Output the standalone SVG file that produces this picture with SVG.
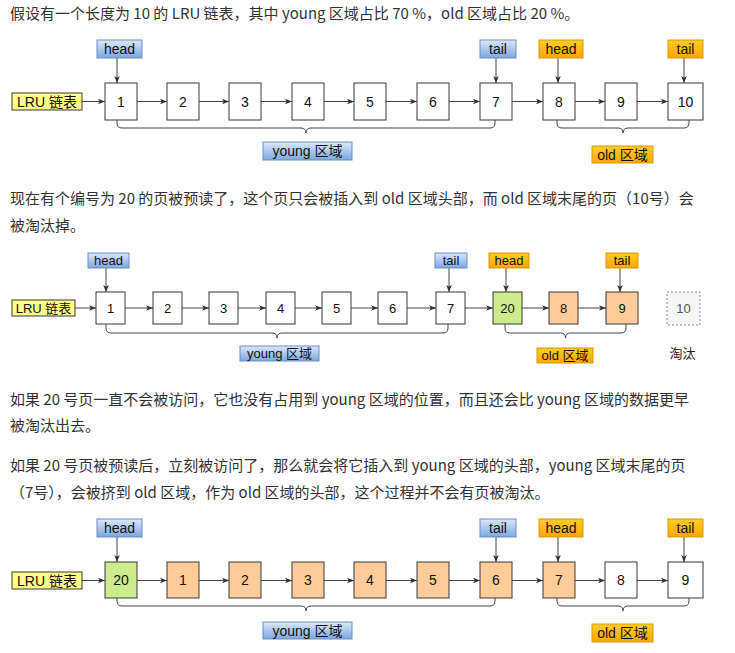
<svg xmlns="http://www.w3.org/2000/svg" width="735" height="653" viewBox="0 0 735 653">
<style>
.para{font-family:"Noto Sans CJK SC","Noto Sans",sans-serif;font-size:15px;fill:#333}
.box{stroke:#36393d;stroke-width:1}
.w{fill:#fff}.g{fill:#cdeb8b}.o{fill:#ffcc99}
.t{font-family:"Liberation Sans","Noto Sans CJK SC",sans-serif;text-anchor:middle;dominant-baseline:central;fill:#111}
.t14{font-size:14px}.t13{font-size:13px}
.note{fill:#ffff88;stroke:#36393d;stroke-width:1}
.bl{fill:url(#gb);stroke:#6c8ebf;stroke-width:1}
.or{fill:url(#go);stroke:#d79b00;stroke-width:1}
.ln{fill:none;stroke:#444;stroke-width:1;marker-end:url(#arr)}
.br{fill:none;stroke:#444;stroke-width:1}
</style>
<defs>
<linearGradient id="gb" x1="0" y1="0" x2="0" y2="1"><stop offset="0" stop-color="#dae8fc"/><stop offset="1" stop-color="#7ea6e0"/></linearGradient>
<linearGradient id="go" x1="0" y1="0" x2="0" y2="1"><stop offset="0" stop-color="#ffcd28"/><stop offset="1" stop-color="#ffa500"/></linearGradient>
<marker id="arr" viewBox="0 0 10 10" refX="10" refY="5" markerWidth="7" markerHeight="7" orient="auto" markerUnits="userSpaceOnUse"><path d="M0,1 L10,5 L0,9 L2.5,5 z" fill="#333"/></marker>
</defs>
<rect width="735" height="653" fill="#fff"/>

<g id="texts">
<text class="para" x="10" y="19">假设有一个长度为 10 的 LRU 链表，其中 young 区域占比 70 %，old 区域占比 20 %。</text>
<text class="para" x="10" y="204">现在有个编号为 20 的页被预读了，这个页只会被插入到 old 区域头部，而 old 区域末尾的页（10号）会</text>
<text class="para" x="10" y="231">被淘汰掉。</text>
<text class="para" x="10" y="405">如果 20 号页一直不会被访问，它也没有占用到 young 区域的位置，而且还会比 young 区域的数据更早</text>
<text class="para" x="10" y="431">被淘汰出去。</text>
<text class="para" x="10" y="471">如果 20 号页被预读后，立刻被访问了，那么就会将它插入到 young 区域的头部，young 区域末尾的页</text>
<text class="para" x="10" y="498">（7号），会被挤到 old 区域，作为 old 区域的头部，这个过程并不会有页被淘汰。</text>
</g>

<!-- Diagram 1 -->
<g id="d1-connectors">
<path class="ln" d="M82,101.5H105"/><path class="ln" d="M137,101.5H167"/><path class="ln" d="M199,101.5H229"/><path class="ln" d="M261,101.5H292"/><path class="ln" d="M324,101.5H354"/><path class="ln" d="M386,101.5H417"/><path class="ln" d="M449,101.5H480"/><path class="ln" d="M512,101.5H543"/><path class="ln" d="M575,101.5H605"/><path class="ln" d="M637,101.5H668"/>
<path class="ln" d="M117,58V83"/><path class="ln" d="M496,58V83"/><path class="ln" d="M558,58V83"/><path class="ln" d="M684,58V83"/>
<path class="br" d="M117,120v3q0,5 5,5H301q5,0 5,5q0,-5 5,-5H490q5,0 5,-5v-3"/>
<path class="br" d="M557,120v3q0,5 5,5H618q5,0 5,5q0,-5 5,-5H684q5,0 5,-5v-3"/>
</g>
<g id="d1-lru"><rect class="note" x="12" y="93" width="70" height="17"/><text class="t t14" x="47" y="101.5">LRU 链表</text></g>
<g id="d1-n1"><rect class="box w" x="105" y="83" width="32" height="37"/><text class="t t14" x="121" y="101.5">1</text></g>
<g id="d1-n2"><rect class="box w" x="167" y="83" width="32" height="37"/><text class="t t14" x="183" y="101.5">2</text></g>
<g id="d1-n3"><rect class="box w" x="229" y="83" width="32" height="37"/><text class="t t14" x="245" y="101.5">3</text></g>
<g id="d1-n4"><rect class="box w" x="292" y="83" width="32" height="37"/><text class="t t14" x="308" y="101.5">4</text></g>
<g id="d1-n5"><rect class="box w" x="354" y="83" width="32" height="37"/><text class="t t14" x="370" y="101.5">5</text></g>
<g id="d1-n6"><rect class="box w" x="417" y="83" width="32" height="37"/><text class="t t14" x="433" y="101.5">6</text></g>
<g id="d1-n7"><rect class="box w" x="480" y="83" width="32" height="37"/><text class="t t14" x="496" y="101.5">7</text></g>
<g id="d1-n8"><rect class="box w" x="543" y="83" width="32" height="37"/><text class="t t14" x="559" y="101.5">8</text></g>
<g id="d1-n9"><rect class="box w" x="605" y="83" width="32" height="37"/><text class="t t14" x="621" y="101.5">9</text></g>
<g id="d1-n10"><rect class="box w" x="668" y="83" width="35" height="37"/><text class="t t14" x="685.5" y="101.5">10</text></g>
<g id="d1-head-y"><rect class="bl" x="97" y="40" width="45" height="18"/><text class="t t14" x="119.5" y="49">head</text></g>
<g id="d1-tail-y"><rect class="bl" x="480" y="40" width="36" height="18"/><text class="t t14" x="498" y="49">tail</text></g>
<g id="d1-head-o"><rect class="or" x="539" y="40" width="44" height="18"/><text class="t t14" x="561" y="49">head</text></g>
<g id="d1-tail-o"><rect class="or" x="668" y="40" width="35" height="18"/><text class="t t14" x="685.5" y="49">tail</text></g>
<g id="d1-young"><rect class="bl" x="263" y="142" width="89" height="18"/><text class="t t14" x="307.5" y="151">young 区域</text></g>
<g id="d1-old"><rect class="or" x="592" y="146" width="61" height="17"/><text class="t t14" x="622.5" y="154.5">old 区域</text></g>

<!-- Diagram 2 -->
<g id="d2-connectors">
<path class="ln" d="M75,308H96"/><path class="ln" d="M125,308H153"/><path class="ln" d="M182,308H209"/><path class="ln" d="M238,308H266"/><path class="ln" d="M295,308H322"/><path class="ln" d="M351,308H378"/><path class="ln" d="M407,308H436"/><path class="ln" d="M465,308H493"/><path class="ln" d="M522,308H549"/><path class="ln" d="M578,308H606"/>
<path class="ln" d="M106,268V292"/><path class="ln" d="M449,268V292"/><path class="ln" d="M506,268V292"/><path class="ln" d="M620,268V292"/>
<path class="br" d="M106,324v4q0,5 5,5H272q5,0 5,5q0,-5 5,-5H443q5,0 5,-5v-4"/>
<path class="br" d="M505,324v4q0,5 5,5H560.5q5,0 5,5q0,-5 5,-5H621q5,0 5,-5v-4"/>
</g>
<g id="d2-lru"><rect class="note" x="12" y="300" width="63" height="16"/><text class="t t13" x="43.5" y="308">LRU 链表</text></g>
<g id="d2-n1"><rect class="box w" x="96" y="292" width="29" height="32"/><text class="t t13" x="110.5" y="308">1</text></g>
<g id="d2-n2"><rect class="box w" x="153" y="292" width="29" height="32"/><text class="t t13" x="167.5" y="308">2</text></g>
<g id="d2-n3"><rect class="box w" x="209" y="292" width="29" height="32"/><text class="t t13" x="223.5" y="308">3</text></g>
<g id="d2-n4"><rect class="box w" x="266" y="292" width="29" height="32"/><text class="t t13" x="280.5" y="308">4</text></g>
<g id="d2-n5"><rect class="box w" x="322" y="292" width="29" height="32"/><text class="t t13" x="336.5" y="308">5</text></g>
<g id="d2-n6"><rect class="box w" x="378" y="292" width="29" height="32"/><text class="t t13" x="392.5" y="308">6</text></g>
<g id="d2-n7"><rect class="box w" x="436" y="292" width="29" height="32"/><text class="t t13" x="450.5" y="308">7</text></g>
<g id="d2-n20"><rect class="box g" x="493" y="292" width="29" height="32"/><text class="t t13" x="507.5" y="308">20</text></g>
<g id="d2-n8"><rect class="box o" x="549" y="292" width="29" height="32"/><text class="t t13" x="563.5" y="308">8</text></g>
<g id="d2-n9"><rect class="box o" x="606" y="292" width="32" height="32"/><text class="t t13" x="622" y="308">9</text></g>
<g id="d2-n10"><rect x="667" y="292" width="33" height="33" fill="#f5f5f5" stroke="#888" stroke-width="1" stroke-dasharray="2,2"/><text class="t t13" x="683.5" y="308.5" style="fill:#555">10</text></g>
<g id="d2-evict"><text class="t t13" x="682.5" y="353" style="fill:#222">淘汰</text></g>
<g id="d2-head-y"><rect class="bl" x="88" y="253" width="41" height="15"/><text class="t t13" x="108.5" y="260.5">head</text></g>
<g id="d2-tail-y"><rect class="bl" x="435" y="253" width="32" height="15"/><text class="t t13" x="451" y="260.5">tail</text></g>
<g id="d2-head-o"><rect class="or" x="489" y="253" width="40" height="15"/><text class="t t13" x="509" y="260.5">head</text></g>
<g id="d2-tail-o"><rect class="or" x="606" y="253" width="32" height="15"/><text class="t t13" x="622" y="260.5">tail</text></g>
<g id="d2-young"><rect class="bl" x="240" y="346" width="79" height="15"/><text class="t t13" x="279.5" y="353.5">young 区域</text></g>
<g id="d2-old"><rect class="or" x="537" y="348" width="56" height="15"/><text class="t t13" x="565" y="355.5">old 区域</text></g>

<!-- Diagram 3 -->
<g id="d3-connectors">
<path class="ln" d="M82,580.5H105"/><path class="ln" d="M137,580.5H167"/><path class="ln" d="M199,580.5H229"/><path class="ln" d="M261,580.5H292"/><path class="ln" d="M324,580.5H354"/><path class="ln" d="M386,580.5H417"/><path class="ln" d="M449,580.5H480"/><path class="ln" d="M512,580.5H543"/><path class="ln" d="M575,580.5H605"/><path class="ln" d="M637,580.5H668"/>
<path class="ln" d="M117,537V562"/><path class="ln" d="M496,537V562"/><path class="ln" d="M558,537V562"/><path class="ln" d="M684,537V562"/>
<path class="br" d="M117,598v3q0,5 5,5H301q5,0 5,5q0,-5 5,-5H490q5,0 5,-5v-3"/>
<path class="br" d="M557,598v3q0,5 5,5H618q5,0 5,5q0,-5 5,-5H684q5,0 5,-5v-3"/>
</g>
<g id="d3-lru"><rect class="note" x="12" y="572" width="70" height="17"/><text class="t t14" x="47" y="580.5">LRU 链表</text></g>
<g id="d3-n20"><rect class="box g" x="105" y="562" width="32" height="36"/><text class="t t14" x="121" y="580">20</text></g>
<g id="d3-n1"><rect class="box o" x="167" y="562" width="32" height="36"/><text class="t t14" x="183" y="580">1</text></g>
<g id="d3-n2"><rect class="box o" x="229" y="562" width="32" height="36"/><text class="t t14" x="245" y="580">2</text></g>
<g id="d3-n3"><rect class="box o" x="292" y="562" width="32" height="36"/><text class="t t14" x="308" y="580">3</text></g>
<g id="d3-n4"><rect class="box o" x="354" y="562" width="32" height="36"/><text class="t t14" x="370" y="580">4</text></g>
<g id="d3-n5"><rect class="box o" x="417" y="562" width="32" height="36"/><text class="t t14" x="433" y="580">5</text></g>
<g id="d3-n6"><rect class="box o" x="480" y="562" width="32" height="36"/><text class="t t14" x="496" y="580">6</text></g>
<g id="d3-n7"><rect class="box o" x="543" y="562" width="32" height="36"/><text class="t t14" x="559" y="580">7</text></g>
<g id="d3-n8"><rect class="box w" x="605" y="562" width="32" height="36"/><text class="t t14" x="621" y="580">8</text></g>
<g id="d3-n9"><rect class="box w" x="668" y="562" width="35" height="36"/><text class="t t14" x="685.5" y="580">9</text></g>
<g id="d3-head-y"><rect class="bl" x="97" y="519" width="45" height="18"/><text class="t t14" x="119.5" y="528">head</text></g>
<g id="d3-tail-y"><rect class="bl" x="480" y="519" width="36" height="18"/><text class="t t14" x="498" y="528">tail</text></g>
<g id="d3-head-o"><rect class="or" x="539" y="519" width="44" height="18"/><text class="t t14" x="561" y="528">head</text></g>
<g id="d3-tail-o"><rect class="or" x="668" y="519" width="35" height="18"/><text class="t t14" x="685.5" y="528">tail</text></g>
<g id="d3-young"><rect class="bl" x="263" y="622" width="89" height="17"/><text class="t t14" x="307.5" y="630.5">young 区域</text></g>
<g id="d3-old"><rect class="or" x="592" y="624" width="61" height="18"/><text class="t t14" x="622.5" y="633">old 区域</text></g>
</svg>
